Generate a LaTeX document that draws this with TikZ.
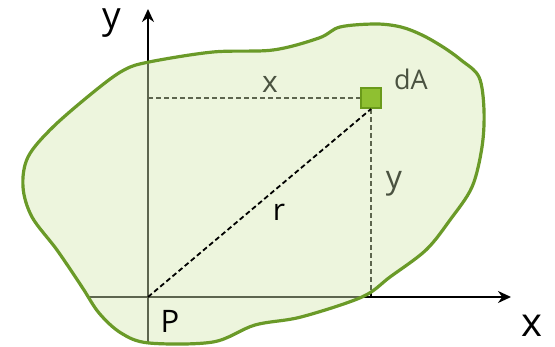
\documentclass[tikz,border=0pt]{standalone}
\usepackage{fontspec}
\setmainfont{Open Sans}
\usetikzlibrary{arrows.meta}
\definecolor{blobfill}{rgb}{0.84,0.91,0.70}
\definecolor{blobline}{HTML}{6A9A28}
\definecolor{sqfill}{HTML}{8FC031}
\definecolor{sqline}{HTML}{6A9A1A}
\definecolor{innertext}{HTML}{4A5240}
\tikzset{
  axis/.style={line width=2.2pt,-{Stealth[length=13pt,width=12pt]}},
  guide/.style={line width=1.8pt,dash pattern=on 5pt off 3pt},
  lbl/.style={anchor=base,inner sep=0pt},
}
\begin{document}
\begin{tikzpicture}[x=1pt,y=-1pt]
\useasboundingbox (0,0) rectangle (555,347);
% axes
\coordinate (P) at (148,297);
\coordinate (yb) at (148,343);
\coordinate (yt) at (148,9);
\coordinate (xl) at (88,297);
\coordinate (xr) at (511,297);
\draw[axis] (yb) -- (yt);
\draw[axis] (xl) -- (xr);
% square
\node[draw=sqline,fill=sqfill,line width=2pt,minimum size=20pt,inner sep=0pt] (sq) at (371,98) {};
\coordinate (yax) at (148,98);
\coordinate (xax) at (371,297);
\draw[guide] (yax) -- (sq.west);
\draw[guide] (sq.south) -- (xax);
% blob
\path[fill=blobfill,fill opacity=0.44] plot[smooth cycle,tension=0.55] coordinates {
(149,62) (213,52) (273,50) (319,38) (340,27) (376,24) (401,27) (422,35) (443,47) (461,60) (479,77) (484,110) (482,147) (472,187) (450,220) (426,250) (390,277) (362,297) (301,317) (255,325) (213,342) (149,343) (121,333) (99,313) (82,287) (57,250) (32,217) (23,187) (28,157) (53,127) (96,90) (124,70)};
\draw[blobline,line width=3.2pt] plot[smooth cycle,tension=0.55] coordinates {
(149,62) (213,52) (273,50) (319,38) (340,27) (376,24) (401,27) (422,35) (443,47) (461,60) (479,77) (484,110) (482,147) (472,187) (450,220) (426,250) (390,277) (362,297) (301,317) (255,325) (213,342) (149,343) (121,333) (99,313) (82,287) (57,250) (32,217) (23,187) (28,157) (53,127) (96,90) (124,70)};
% square on top
\node[draw=sqline,fill=sqfill,line width=2pt,minimum size=20pt,inner sep=0pt] at (371,98) {};
% r line
\draw[guide,black] (P) -- (sq.south);
% labels
\node[lbl,innertext,font=\fontsize{30}{30}\selectfont] (lx) at (270,93) {x};
\node[lbl,innertext,font=\fontsize{32}{32}\selectfont] (ly) at (394,189) {y};
\node[lbl,innertext,font=\fontsize{27}{27}\selectfont] (ldA) at (411,90) {dA};
\node[lbl,font=\fontsize{30}{30}\selectfont] (lr) at (279,221) {r};
\node[lbl,font=\fontsize{31}{31}\selectfont] (lP) at (170,333) {P};
\node[lbl,font=\fontsize{37}{37}\selectfont] (lyo) at (112,29) {y};
\node[lbl,font=\fontsize{40}{40}\selectfont] (lxo) at (532,337) {x};
\end{tikzpicture}
\end{document}
